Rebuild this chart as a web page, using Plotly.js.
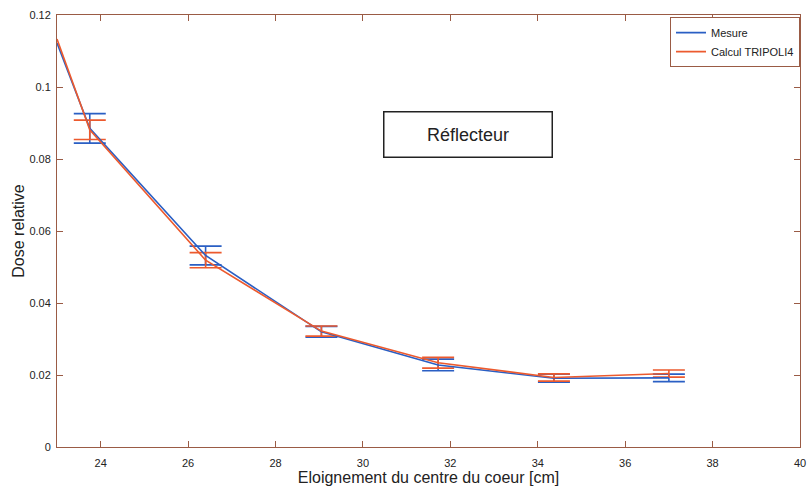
<!DOCTYPE html>
<html>
<head>
<meta charset="utf-8">
<script src="https://cdn.plot.ly/plotly-3.0.1.min.js"></script>
<style>html,body{margin:0;padding:0;background:#fff;}#chart{width:811px;height:488px;}</style>
</head>
<body>
<div id="chart"></div>
<script>
const xMesure = [23, 23.75, 26.4, 29.05, 31.72, 34.37, 37.0];
const yMesure = [0.1122, 0.0885, 0.0532, 0.0320, 0.0228, 0.0191, 0.0192];
const errMesure = [0, 0.0041, 0.0026, 0.0015, 0.0016, 0.0011, 0.00105];

const xCalcul = [23, 23.75, 26.4, 29.05, 31.72, 34.37, 37.0];
const yCalcul = [0.1133, 0.0881, 0.0519, 0.0322, 0.0234, 0.0193, 0.0204];
const errCalcul = [0, 0.0027, 0.0021, 0.0014, 0.0015, 0.0010, 0.0010];

const xTicks = [24, 26, 28, 30, 32, 34, 36, 38, 40];
const yTicks = [0, 0.02, 0.04, 0.06, 0.08, 0.1, 0.12];
const yTickLabels = ['0', '0.02', '0.04', '0.06', '0.08', '0.1', '0.12'];

const blue = '#2a5fc4';
const red = '#ec5a2e';
const frame = '#9a5b45';
const font = '"Liberation Sans Narrow", "Liberation Sans", Arial, sans-serif';

function errTrace(xs, ys, errs, color) {
  return {
    x: xs.slice(1), y: ys.slice(1), type: 'scatter', mode: 'markers',
    marker: {size: 1, opacity: 0, color: color},
    error_y: {type: 'data', array: errs.slice(1), visible: true, color: color, thickness: 1.6, width: 16},
    showlegend: false, hoverinfo: 'skip'
  };
}

const traces = [
  errTrace(xMesure, yMesure, errMesure, blue),
  errTrace(xCalcul, yCalcul, errCalcul, red),
  {x: xMesure, y: yMesure, type: 'scatter', mode: 'lines', name: 'Mesure', line: {color: blue, width: 1.6}},
  {x: xCalcul, y: yCalcul, type: 'scatter', mode: 'lines', name: 'Calcul TRIPOLI4', line: {color: red, width: 1.6}}
];

const layout = {
  width: 811, height: 488,
  margin: {l: 57, r: 11, t: 15, b: 41},
  paper_bgcolor: '#fff', plot_bgcolor: '#fff',
  font: {family: font, color: '#222', size: 11},
  showlegend: true,
  legend: {x: 1, y: 0.995, xanchor: 'right', yanchor: 'top', bgcolor: '#fff',
           bordercolor: frame, borderwidth: 1, font: {size: 11, family: font},
           tracegroupgap: 0, itemwidth: 30},
  xaxis: {
    range: [23, 40], tickvals: xTicks, ticktext: xTicks.map(String),
    ticks: 'inside', ticklen: 6, tickcolor: frame, showgrid: false, zeroline: false,
    showline: true, linecolor: frame, linewidth: 1, mirror: 'ticks',
    ticklabelstandoff: 6,
    tickfont: {size: 11, family: font, color: '#222'},
    title: {text: 'Eloignement du centre du coeur [cm]', font: {size: 16, family: font, color: '#222'}, standoff: 2}
  },
  yaxis: {
    range: [0, 0.12], tickvals: yTicks, ticktext: yTickLabels,
    ticks: 'inside', ticklen: 6, tickcolor: frame, showgrid: false, zeroline: false,
    showline: true, linecolor: frame, linewidth: 1, mirror: 'ticks',
    ticklabelstandoff: 3,
    tickfont: {size: 11, family: font, color: '#222'},
    title: {text: 'Dose relative', font: {size: 16, family: font, color: '#222'}, standoff: 0}
  },
  annotations: [{
    x: 32.4, y: 0.0869, xref: 'x', yref: 'y', text: 'Réflecteur', showarrow: false,
    font: {size: 18, family: '"Liberation Sans", Arial, sans-serif', color: '#222'},
    bordercolor: '#222', borderwidth: 1.5, borderpad: 12, bgcolor: '#fff',
    width: 143
  }]
};

Plotly.newPlot('chart', traces, layout, {displayModeBar: false, staticPlot: true});
</script>
</body>
</html>
